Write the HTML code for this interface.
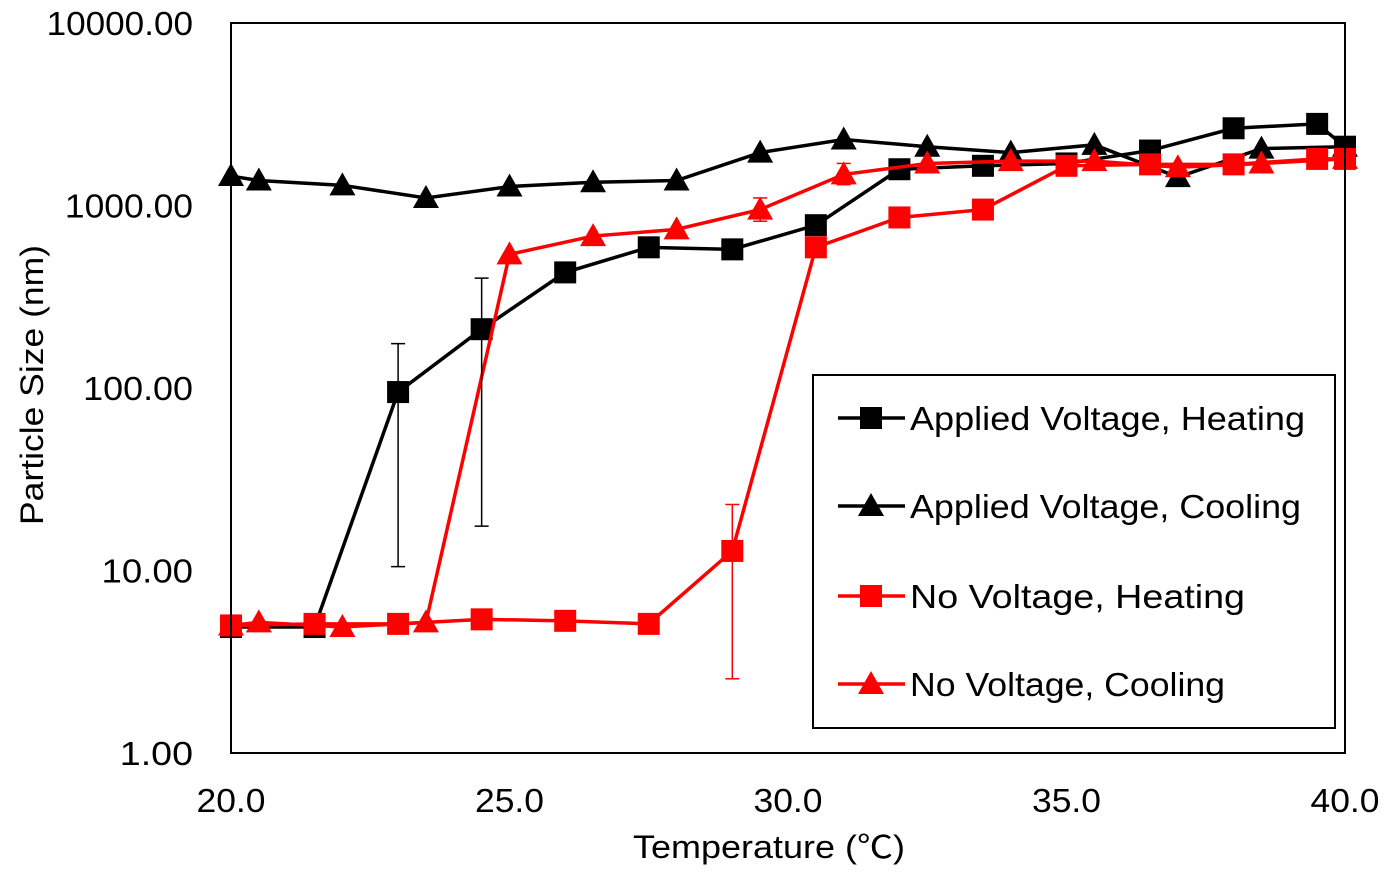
<!DOCTYPE html>
<html><head><meta charset="utf-8"><style>
body{margin:0;background:#fff;}
svg text{font-family:"Liberation Sans","Noto Sans CJK JP",sans-serif;fill:#000;}
</style></head><body>
<svg id="chart" width="1400" height="886" xmlns="http://www.w3.org/2000/svg">
<rect x="0" y="0" width="1400" height="886" fill="#fff"/>
<g id="series"></g>
<rect x="231" y="23" width="1114" height="730" fill="none" stroke="#000" stroke-width="2"/>
<g id="ticks"></g>
<text transform="translate(43,385) rotate(-90)" text-anchor="middle" font-size="32" textLength="280" lengthAdjust="spacingAndGlyphs">Particle Size (nm)</text>
<text x="769" y="858" text-anchor="middle" font-size="32" textLength="272" lengthAdjust="spacingAndGlyphs">Temperature (℃)</text>
<g>
<rect x="813" y="375" width="522" height="353" fill="#fff" stroke="#000" stroke-width="2"/>
<g id="legend-items"></g>
</g>
</svg>
<script>
const xTicks=[20,25,30,35,40];
const yTicks=[1,10,100,1000,10000];
const avhX=[20,21.5,23,24.5,26,27.5,29,30.5,32,33.5,35,36.5,38,39.5,40];
const avhY=[4.9,4.9,95,210,430,590,575,780,1580,1650,1700,2000,2650,2800,2100];
const avcX=[20,20.5,22,23.5,25,26.5,28,29.5,31,32.5,34,35.5,37,38.5,40];
const avcY=[1450,1370,1290,1100,1270,1340,1370,1950,2300,2100,1950,2150,1430,2050,2100];
const nvhX=[20,21.5,23,24.5,26,27.5,29,30.5,32,33.5,35,36.5,38,39.5,40];
const nvhY=[5.0,5.1,5.1,5.4,5.3,5.1,12.8,590,860,950,1650,1680,1680,1800,1800];
const nvcX=[20,20.5,22,23.5,25,26.5,28,29.5,31,32.5,34,35.5,37,38.5,40];
const nvcY=[5.0,5.2,4.9,5.2,540,680,740,950,1480,1700,1750,1750,1620,1700,1800];
const errX=[23,24.5,29,29.5,31];
const errLo=[10.5,17.5,2.55,820,1300];
const errHi=[175,400,23,1100,1700];
const errColor=['#000','#000','#f00','#f00','#f00'];
const names=['Applied Voltage, Heating','Applied Voltage, Cooling','No Voltage, Heating','No Voltage, Cooling'];
const nameW=[395,391,335,315];

const NS='http://www.w3.org/2000/svg';
const X=v=>231+(v-20)/20*1114;
const Y=v=>753-Math.log10(v)*182.5;
function mk(t,a,p){const e=document.createElementNS(NS,t);for(const k in a)e.setAttribute(k,a[k]);p.appendChild(e);return e;}
const ticks=document.getElementById('ticks');
xTicks.forEach(t=>{const e=mk('text',{x:X(t),y:812,'text-anchor':'middle','font-size':33,textLength:69,lengthAdjust:'spacingAndGlyphs'},ticks);e.textContent=t.toFixed(1);

});
yTicks.forEach(t=>{const s=t.toFixed(2);const e=mk('text',{x:193,y:Y(t)+12,'text-anchor':'end','font-size':33,textLength:s.length*18.3,lengthAdjust:'spacingAndGlyphs'},ticks);e.textContent=s;

});
const S=document.getElementById('series');
function marker(shape,cx,cy,col,p){let e;
 if(shape==='sq'){e=mk('rect',{x:cx-11,y:cy-11,width:22,height:22,fill:col},p);}
 else{e=mk('polygon',{points:`${cx},${cy-13} ${cx+13},${cy+10} ${cx-13},${cy+10}`,fill:col},p);}
 return e;}
const series=[[avhX,avhY,'#000','sq'],[avcX,avcY,'#000','tri'],[nvhX,nvhY,'#f00','sq'],[nvcX,nvcY,'#f00','tri']];
series.forEach((s,i)=>{const g=mk('g',{},S);
 
 
 const pts=s[0].map((x,j)=>X(x)+','+Y(s[1][j])).join(' ');
 const l=mk('polyline',{points:pts,fill:'none',stroke:s[2],'stroke-width':3.5},g);
 
 
 s[0].forEach((x,j)=>{const m=marker(s[3],X(x),Y(s[1][j]),s[2],g);
  
  });
});
errX.forEach((x,i)=>{const g=mk('g',{stroke:errColor[i],'stroke-width':1.5},S);
 
 
 mk('line',{x1:X(x),x2:X(x),y1:Y(errLo[i]),y2:Y(errHi[i])},g);
 mk('line',{x1:X(x)-7,x2:X(x)+7,y1:Y(errLo[i]),y2:Y(errLo[i])},g);
 mk('line',{x1:X(x)-7,x2:X(x)+7,y1:Y(errHi[i]),y2:Y(errHi[i])},g);});
const L=document.getElementById('legend-items');
const ly=[418,506,596,684];
series.forEach((s,i)=>{const g=mk('g',{},L);
 
 
 mk('line',{x1:838,x2:905,y1:ly[i],y2:ly[i],stroke:s[2],'stroke-width':3.5},g);
 marker(s[3],871,ly[i],s[2],g);
 const t=mk('text',{x:910,y:ly[i]+12,'font-size':33,textLength:nameW[i],lengthAdjust:'spacingAndGlyphs'},g);t.textContent=names[i];});
</script>
</body></html>
